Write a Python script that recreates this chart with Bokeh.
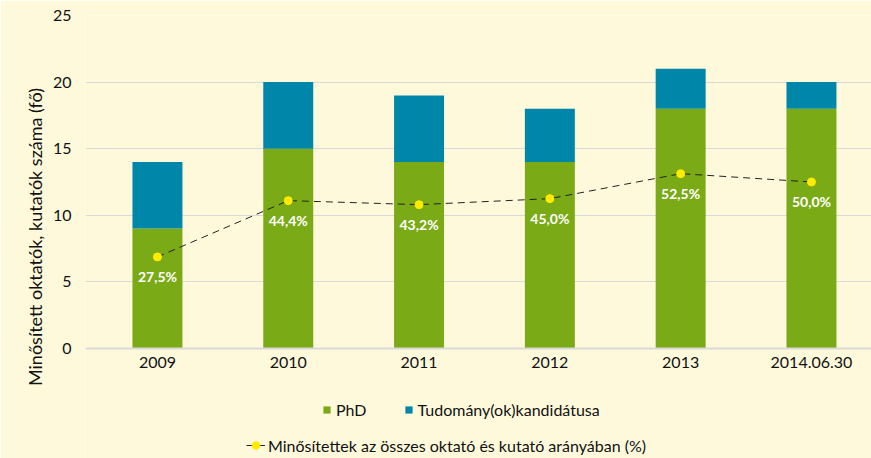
from bokeh.plotting import figure
from bokeh.models import (ColumnDataSource, Range1d, Legend, LegendItem,
                          FixedTicker, CustomJSTickFormatter)
from bokeh.core.properties import value
from bokeh.embed import file_html
from bokeh.resources import INLINE

categories = ["2009", "2010", "2011", "2012", "2013", "2014.06.30"]
phd = [9, 15, 14, 14, 18, 18]
kandidatus = [5, 5, 5, 4, 3, 2]
arany_pct = [27.5, 44.4, 43.2, 45.0, 52.5, 50.0]
y_ticks = [0, 5, 10, 15, 20, 25]

BG = "#FFF9DC"
GREEN = "#7BAA17"
TEAL = "#0086A8"
YELLOW = "#FFEB00"
FONT = "Lato"
TXT = "#111111"

xs = list(range(len(categories)))
src = ColumnDataSource(dict(
    x=xs, phd=phd, kand=kandidatus,
    pct=arany_pct,
    lbl=[("%.1f%%" % v).replace(".", ",") for v in arany_pct],
))

# frame extends to the bottom of the figure so legends are not clipped;
# value 0..25 maps to the same pixel band as the reference
Y_MIN = -8.26
p = figure(width=871, height=458, output_backend="svg", toolbar_location=None,
           x_range=Range1d(-0.55, 5.459), y_range=Range1d(Y_MIN, 25),
           background_fill_color=BG, border_fill_color=BG,
           min_border_left=85, min_border_right=0, min_border_top=15,
           min_border_bottom=0)
p.outline_line_color = None
p.extra_y_ranges = {"pct": Range1d(Y_MIN * 4, 100)}

bars = p.vbar_stack(["phd", "kand"], x="x", width=0.382, source=src,
                    color=[GREEN, TEAL], line_color=None)

ln = p.line("x", "pct", source=src, y_range_name="pct", line_color="#222222",
            line_width=1, line_dash="7 5")
pts = p.scatter("x", "pct", source=src, y_range_name="pct", size=8,
                fill_color=YELLOW, line_color=YELLOW)
p.text("x", "pct", text="lbl", source=src, y_range_name="pct",
       text_color="white", text_font=value(FONT), text_font_style="bold",
       text_font_size="14px", text_align="center", text_baseline="middle",
       y_offset=20)

# x axis drawn at value 0
p.xaxis.fixed_location = 0
p.xaxis.ticker = FixedTicker(ticks=xs)
p.xaxis.formatter = CustomJSTickFormatter(args=dict(labels=categories),
                                          code="return labels[tick];")
p.xaxis.axis_line_color = "#D9D9D9"
p.xaxis.axis_line_width = 2
p.xaxis.major_tick_line_color = None
p.xaxis.major_tick_out = 0
p.xaxis.major_tick_in = 0
p.xaxis.minor_tick_line_color = None
p.xaxis.major_label_text_font = FONT
p.xaxis.major_label_text_font_size = "16px"
p.xaxis.major_label_text_color = TXT
p.xaxis.major_label_standoff = 9

p.yaxis.ticker = FixedTicker(ticks=y_ticks)
p.yaxis.axis_line_color = None
p.yaxis.major_tick_line_color = None
p.yaxis.major_tick_out = 0
p.yaxis.major_tick_in = 0
p.yaxis.minor_tick_line_color = None
p.yaxis.major_label_text_font = FONT
p.yaxis.major_label_text_font_size = "16px"
p.yaxis.major_label_text_color = TXT
p.yaxis.major_label_standoff = 14
p.yaxis.axis_label = "Minősített oktatók, kutatók száma (fő)"
p.yaxis.axis_label_text_font = FONT
p.yaxis.axis_label_text_font_style = "normal"
p.yaxis.axis_label_text_font_size = "18px"
p.yaxis.axis_label_text_color = TXT
p.yaxis.axis_label_standoff = 4

p.xgrid.grid_line_color = None
p.ygrid.grid_line_color = "#D9D9D9"
p.ygrid.grid_line_width = 1

leg1 = Legend(items=[LegendItem(label="PhD", renderers=[bars[0]]),
                     LegendItem(label="Tudomány(ok)kandidátusa", renderers=[bars[1]])],
              orientation="horizontal", location=(237, 39),
              glyph_width=9, glyph_height=9, label_standoff=5, spacing=37,
              padding=0, margin=0, border_line_color=None,
              background_fill_alpha=0, label_text_font=FONT,
              label_text_font_size="16px", label_text_color=TXT,
              label_height=20)
leg2 = Legend(items=[LegendItem(label="Minősítettek az összes oktató és kutató arányában (%)",
                                renderers=[ln, pts])],
              orientation="horizontal", location=(161, 3),
              glyph_width=19, glyph_height=20, label_standoff=3,
              padding=0, margin=0, border_line_color=None,
              background_fill_alpha=0, label_text_font=FONT,
              label_text_font_size="16px", label_text_color=TXT,
              label_height=20)
p.add_layout(leg1, "center")
p.add_layout(leg2, "center")

open("out.html", "w").write(file_html(p, INLINE))
